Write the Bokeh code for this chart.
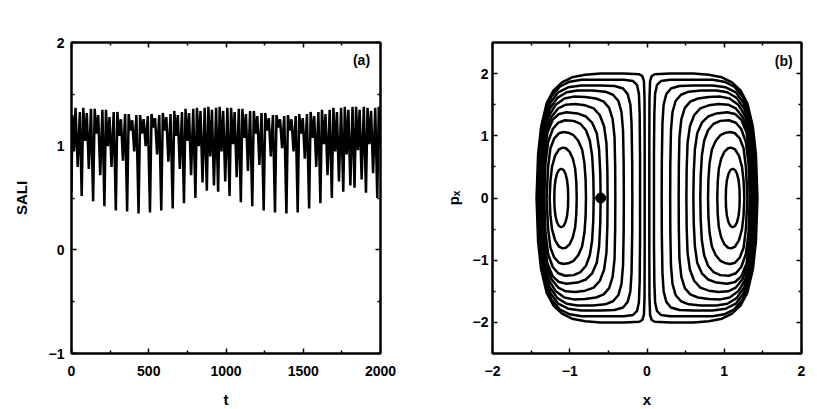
from bokeh.plotting import figure
from bokeh.layouts import row
from bokeh.models import (Range1d, LinearAxis, FixedTicker, Label, CustomLabelingPolicy,
                          CustomJSTickFormatter)
from bokeh.embed import file_html
from bokeh.resources import INLINE

# ---------------- data: panel (a) SALI vs t ----------------
sali_t = [
    0, 6, 16, 26, 40, 54,
    66, 76, 88, 99, 112, 126,
    140, 150, 162, 173, 186, 200,
    213, 223, 235, 246, 259, 273,
    287, 297, 309, 320, 333, 347,
    360, 370, 382, 393, 406, 420,
    434, 444, 456, 467, 480, 494,
    508, 518, 530, 541, 554, 568,
    581, 591, 603, 614, 627, 641,
    655, 665, 677, 688, 701, 715,
    728, 738, 750, 761, 774, 788,
    802, 812, 824, 835, 848, 862,
    876, 886, 898, 909, 922, 936,
    949, 959, 971, 982, 995, 1009,
    1023, 1033, 1045, 1056, 1069, 1083,
    1096, 1106, 1118, 1129, 1142, 1156,
    1170, 1180, 1192, 1203, 1216, 1230,
    1244, 1254, 1266, 1277, 1290, 1304,
    1317, 1327, 1339, 1350, 1363, 1377,
    1391, 1401, 1413, 1424, 1437, 1451,
    1464, 1474, 1486, 1497, 1510, 1524,
    1538, 1548, 1560, 1571, 1584, 1598,
    1611, 1621, 1633, 1644, 1657, 1671,
    1685, 1695, 1707, 1718, 1731, 1745,
    1759, 1769, 1781, 1792, 1805, 1819,
    1832, 1842, 1854, 1865, 1878, 1892,
    1906, 1916, 1928, 1939, 1952, 1966,
    1979, 1989, 2000,
]
sali_v = [
    0.56, 1.30, 0.95, 1.37, 0.80, 1.33,
    0.52, 1.37, 1.05, 1.32, 0.78, 1.36,
    0.47, 1.36, 1.12, 1.30, 0.72, 1.35,
    0.42, 1.35, 1.00, 1.28, 0.80, 1.33,
    0.38, 1.33, 1.10, 1.26, 0.86, 1.31,
    0.37, 1.31, 1.15, 1.25, 0.95, 1.30,
    0.35, 1.30, 1.12, 1.26, 1.00, 1.29,
    0.36, 1.31, 1.18, 1.27, 0.92, 1.30,
    0.38, 1.32, 1.15, 1.28, 0.85, 1.31,
    0.40, 1.34, 1.10, 1.30, 0.78, 1.33,
    0.45, 1.36, 1.05, 1.32, 0.72, 1.36,
    0.50, 1.37, 1.00, 1.34, 0.65, 1.37,
    0.57, 1.38, 0.90, 1.35, 0.62, 1.37,
    0.56, 1.38, 0.95, 1.34, 0.66, 1.37,
    0.52, 1.37, 1.02, 1.33, 0.70, 1.36,
    0.46, 1.36, 1.08, 1.31, 0.76, 1.34,
    0.42, 1.34, 1.12, 1.29, 0.82, 1.32,
    0.38, 1.32, 1.15, 1.27, 0.90, 1.30,
    0.36, 1.30, 1.18, 1.26, 0.98, 1.29,
    0.35, 1.30, 1.15, 1.26, 0.95, 1.29,
    0.36, 1.31, 1.12, 1.27, 0.88, 1.31,
    0.40, 1.33, 1.08, 1.29, 0.80, 1.33,
    0.45, 1.35, 1.02, 1.31, 0.72, 1.35,
    0.50, 1.37, 0.95, 1.33, 0.66, 1.37,
    0.56, 1.38, 0.92, 1.35, 0.62, 1.38,
    0.60, 1.38, 0.96, 1.35, 0.68, 1.38,
    0.55, 1.37, 1.02, 1.34, 0.74, 1.37,
    0.50, 1.38, 1.00,
]
t_ticks = [0, 500, 1000, 1500, 2000]
sali_ticks = [-1, 0, 1, 2]

# ---------------- data: panel (b) phase portrait (upper halves of left family) ----------------
curve_x = [
    [-1.02, -1.023, -1.035, -1.055, -1.08, -1.11, -1.14, -1.165, -1.185, -1.197, -1.20],
    [-0.91, -0.915, -0.93, -0.96, -1.0, -1.05, -1.09, -1.14, -1.19, -1.23, -1.25, -1.26],
    [-0.79, -0.795, -0.81, -0.84, -0.89, -0.95, -1.02, -1.08, -1.14, -1.2, -1.25, -1.28, -1.30],
    [-0.69, -0.695, -0.71, -0.74, -0.79, -0.86, -0.95, -1.06, -1.15, -1.22, -1.28, -1.315, -1.33],
    [-0.60, -0.605, -0.62, -0.65, -0.71, -0.79, -0.9, -1.04, -1.14, -1.22, -1.29, -1.33, -1.35],
    [-0.51, -0.513, -0.525, -0.555, -0.61, -0.69, -0.8, -0.93, -1.05, -1.15, -1.24, -1.31, -1.35, -1.37],
    [-0.41, -0.412, -0.42, -0.445, -0.49, -0.56, -0.66, -0.8, -0.95, -1.07, -1.18, -1.27, -1.33, -1.365, -1.38],
    [-0.30, -0.302, -0.31, -0.33, -0.37, -0.44, -0.54, -0.7, -0.9, -1.04, -1.16, -1.26, -1.33, -1.37, -1.39],
    [-0.19, -0.192, -0.2, -0.215, -0.25, -0.31, -0.42, -0.6, -0.85, -1.02, -1.15, -1.25, -1.33, -1.38, -1.40],
    [-0.09, -0.09, -0.095, -0.105, -0.13, -0.18, -0.3, -0.55, -0.85, -1.0, -1.13, -1.24, -1.32, -1.38, -1.41],
    [-0.03, -0.03, -0.032, -0.04, -0.06, -0.1, -0.3, -0.6, -0.8, -0.97, -1.1, -1.21, -1.3, -1.37, -1.41, -1.43],
]
curve_p = [
    [0.0, 0.15, 0.29, 0.39, 0.45, 0.47, 0.45, 0.39, 0.29, 0.15, 0.0],
    [0.0, 0.25, 0.47, 0.63, 0.74, 0.80, 0.81, 0.78, 0.68, 0.5, 0.28, 0.0],
    [0.0, 0.3, 0.56, 0.78, 0.92, 1.01, 1.05, 1.06, 1.04, 0.96, 0.8, 0.5, 0.0],
    [0.0, 0.35, 0.68, 0.92, 1.09, 1.19, 1.24, 1.25, 1.21, 1.11, 0.9, 0.55, 0.0],
    [0.0, 0.4, 0.78, 1.04, 1.21, 1.31, 1.36, 1.38, 1.35, 1.26, 1.05, 0.65, 0.0],
    [0.0, 0.45, 0.88, 1.15, 1.33, 1.44, 1.49, 1.51, 1.5, 1.44, 1.3, 1.05, 0.65, 0.0],
    [0.0, 0.5, 0.98, 1.27, 1.45, 1.55, 1.6, 1.625, 1.63, 1.6, 1.5, 1.32, 1.05, 0.65, 0.0],
    [0.0, 0.55, 1.08, 1.38, 1.56, 1.66, 1.71, 1.73, 1.73, 1.7, 1.61, 1.43, 1.15, 0.7, 0.0],
    [0.0, 0.6, 1.2, 1.5, 1.67, 1.76, 1.8, 1.81, 1.81, 1.78, 1.7, 1.53, 1.25, 0.75, 0.0],
    [0.0, 0.7, 1.35, 1.68, 1.82, 1.88, 1.9, 1.9, 1.9, 1.87, 1.79, 1.63, 1.35, 0.85, 0.0],
    [0.0, 0.8, 1.6, 1.88, 1.96, 1.99, 2.0, 2.0, 1.98, 1.94, 1.86, 1.73, 1.52, 1.15, 0.7, 0.0],
]
start_x = [-0.6]
start_p = [0.0]
x_ticks = [-2, -1, 0, 1, 2]
p_ticks = [-2, -1, 0, 1, 2]

FONT = "Liberation Sans"
FS = "14px"
FS_LABEL = "15px"


def style(p, xt, yt, xminor, yminor, ystandoff, ylabel_standoff):
    p.xgrid.visible = False
    p.ygrid.visible = False
    p.outline_line_color = "black"
    p.outline_line_width = 2
    p.background_fill_color = "white"
    p.border_fill_color = "white"
    bottom = p.below[0]
    left = p.left[0]
    xtick = FixedTicker(ticks=xt, minor_ticks=xminor)
    ytick = FixedTicker(ticks=yt, minor_ticks=yminor)
    bottom.ticker = xtick
    left.ticker = ytick
    top = LinearAxis(ticker=xtick)
    right = LinearAxis(ticker=ytick)
    p.add_layout(top, "above")
    p.add_layout(right, "right")
    for ax in [bottom, left, top, right]:
        ax.axis_line_width = 2
        ax.axis_line_color = "black"
        ax.major_tick_in = 5
        ax.major_tick_out = 0
        ax.minor_tick_in = 3
        ax.minor_tick_out = 0
        ax.major_tick_line_width = 1.5
        ax.minor_tick_line_width = 1.5
        ax.major_label_text_font = FONT
        ax.major_label_text_font_style = "bold"
        ax.major_label_text_font_size = FS
        ax.major_label_text_color = "black"
        ax.axis_label_text_font = FONT
        ax.axis_label_text_font_style = "bold"
        ax.axis_label_text_font_size = FS_LABEL
        ax.axis_label_text_color = "black"
    for ax in [top, right]:
        ax.formatter = CustomJSTickFormatter(code="return ''")
        ax.major_label_policy = CustomLabelingPolicy(code="return new indices.constructor(indices.size)")
        ax.major_label_standoff = 0
    bottom.major_label_standoff = 12
    left.major_label_standoff = ystandoff
    bottom.axis_label_standoff = 12
    left.axis_label_standoff = ylabel_standoff


# ---------------- panel (a) ----------------
p1 = figure(frame_width=309, frame_height=311, output_backend="svg", toolbar_location=None,
            x_range=Range1d(0, 2000), y_range=Range1d(-1, 2),
            min_border_left=71, min_border_right=30, min_border_top=42, min_border_bottom=50,
            x_axis_label="t", y_axis_label="SALI")
style(p1, t_ticks, sali_ticks, [250, 750, 1250, 1750], [-0.5, 0.5, 1.5], 7, 16)
p1.line(sali_t, sali_v, line_color="black", line_width=2.5)
p1.add_layout(Label(x=1877, y=1.835, text="(a)", text_align="center", text_baseline="middle",
                    text_font=FONT, text_font_style="bold", text_font_size=FS,
                    text_color="black"))

# ---------------- panel (b) ----------------
p2 = figure(frame_width=309, frame_height=311, output_backend="svg", toolbar_location=None,
            x_range=Range1d(-2, 2), y_range=Range1d(-2.5, 2.5),
            min_border_left=82, min_border_right=8, min_border_top=42, min_border_bottom=50,
            x_axis_label="x", y_axis_label="pₓ")
style(p2, x_ticks, p_ticks, [-1.5, -0.5, 0.5, 1.5], [-2.5, -1.5, -0.5, 0.5, 1.5, 2.5], 4, 8)

xs_all, ps_all = [], []
for cx, cp in zip(curve_x, curve_p):
    full_x = cx + cx[::-1]
    full_p = cp + [-v for v in cp[::-1]]
    xs_all.append(full_x)
    ps_all.append(full_p)
    xs_all.append([-v for v in full_x])
    ps_all.append(full_p)
p2.multi_line(xs_all, ps_all, line_color="black", line_width=2.5)
p2.scatter(start_x, start_p, size=10, color="black")
p2.add_layout(Label(x=1.77, y=2.21, text="(b)", text_align="center", text_baseline="middle",
                    text_font=FONT, text_font_style="bold", text_font_size=FS,
                    text_color="black"))

layout = row(p1, p2)
open("out.html", "w").write(file_html(layout, INLINE))
